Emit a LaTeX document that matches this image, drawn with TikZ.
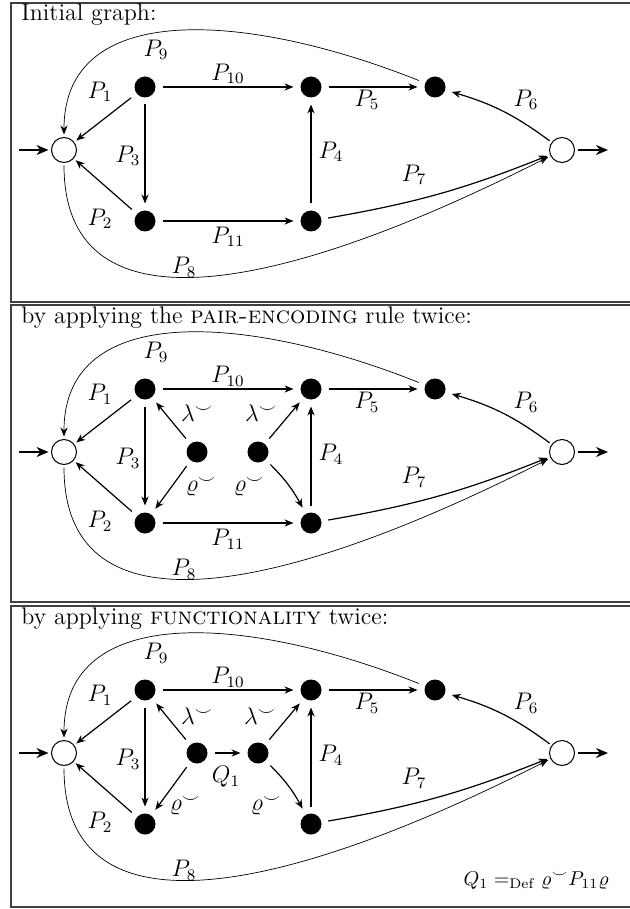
\documentclass[tikz,border=0pt]{standalone}
\usepackage{amsmath,amssymb}
\usetikzlibrary{arrows.meta}

\tikzset{
  vtx/.style={circle,fill=black,inner sep=0pt,minimum size=10.5pt,outer sep=3.5pt},
  port/.style={circle,draw,line width=0.5pt,inner sep=0pt,minimum size=12.5pt,outer sep=1.5pt},
  arr/.style={line width=0.6pt,-{Stealth[length=4.5pt,width=3.6pt]}},
  thinarr/.style={line width=0.35pt,-{Stealth[length=4.5pt,width=3.6pt]}},
  ioarr/.style={line width=1.1pt,-{Stealth[length=6pt,width=5pt]}},
  lbl/.style={font=\large},
  headtxt/.style={font=\large,inner sep=0pt},
  frame/.style={line width=0.6pt,black!75},
}

\begin{document}
\begin{tikzpicture}[x=0.5pt,y=-0.5pt]
  \useasboundingbox (0,0) rectangle (630,909);

  % common part of the three panels
  \foreach \pn/\yt/\hgt/\heading in {a/3/299/{Initial graph:},
      b/305/297/{by applying the \textsc{pair-encoding} rule twice:},
      c/606/301/{by applying \textsc{functionality} twice:}}{
    \begin{scope}[shift={(0,\yt)}]
      \draw[frame] (630,0) -| (11,\hgt) -- (630,\hgt);
      \node[headtxt,anchor=base west] (\pn head) at (21,18) {\heading};

      \node[port] (\pn in) at (64,147) {};
      \node[port] (\pn out) at (562,147) {};
      \node[vtx] (\pn TL) at (145,84) {};
      \node[vtx] (\pn TM) at (311,84) {};
      \node[vtx] (\pn TR) at (435,84) {};
      \node[vtx] (\pn BL) at (145,218) {};
      \node[vtx] (\pn BM) at (311,218) {};
      \coordinate (\pn src) at (19,147);
      \coordinate (\pn snk) at (608,147);

      \draw[ioarr] (\pn src) -- (\pn in);
      \draw[ioarr] (\pn out) -- (\pn snk);
      \draw[arr] (\pn TL) -- (\pn in);
      \draw[arr] (\pn BL) -- (\pn in);
      \draw[arr] (\pn TL) -- (\pn BL);
      \draw[arr] (\pn TL) -- (\pn TM);
      \draw[arr] (\pn BM) -- (\pn TM);
      \draw[arr] (\pn TM) -- (\pn TR);
      \draw[arr] (\pn out) to[bend right=10] (\pn TR);
      \draw[arr] (\pn BM) to[bend right=6] (\pn out);
      \draw[thinarr] (\pn TR) .. controls (250,10) and (64,-5) .. (\pn in);
      \draw[thinarr] (\pn in) .. controls (64,325) and (260,300) .. (\pn out);

      \node[lbl] (\pn l9) at (156,47) {$P_9$};
      \node[lbl] (\pn l1) at (100,89) {$P_1$};
      \node[lbl] (\pn l3) at (128,153) {$P_3$};
      \node[lbl] (\pn l2) at (100,216) {$P_2$};
      \node[lbl] (\pn l10) at (228,71) {$P_{10}$};
      \node[lbl] (\pn l8) at (184,264) {$P_8$};
      \node[lbl] (\pn l5) at (367,97) {$P_5$};
      \node[lbl] (\pn l6) at (526,97) {$P_6$};
      \node[lbl] (\pn l4) at (331,149) {$P_4$};
      \node[lbl] (\pn l7) at (414,172) {$P_7$};
    \end{scope}
  }

  % P11 is still there in the first two panels
  \foreach \pn/\yt in {a/3, b/305}{
    \begin{scope}[shift={(0,\yt)}]
      \draw[arr] (\pn BL) -- (\pn BM);
      \node[lbl] (\pn l11) at (228,234) {$P_{11}$};
    \end{scope}
  }

  % pair encoding
  \begin{scope}[shift={(0,305)}]
    \node[vtx] (bA) at (197,147) {};
    \node[vtx] (bB) at (258,147) {};
    \draw[arr] (bA) -- (bTL);
    \draw[arr] (bA) -- (bBL);
    \draw[arr] (bB) -- (bTM);
    \draw[arr] (bB) to[bend left=8] (bBM);
    \node[lbl] (blamA) at (197,108) {$\lambda^{\smile}$};
    \node[lbl] (blamB) at (261,108) {$\lambda^{\smile}$};
    \node[lbl] (brhoA) at (201,182) {$\varrho^{\smile}$};
    \node[lbl] (brhoB) at (249,182) {$\varrho^{\smile}$};
  \end{scope}

  % functionality
  \begin{scope}[shift={(0,606)}]
    \node[vtx] (cA) at (197,147) {};
    \node[vtx] (cB) at (258,147) {};
    \draw[arr] (cA) -- (cTL);
    \draw[arr] (cA) -- (cBL);
    \draw[arr] (cB) -- (cTM);
    \draw[arr] (cB) to[bend left=8] (cBM);
    \draw[arr] (cA) -- (cB);
    \node[lbl] (clamA) at (197,110) {$\lambda^{\smile}$};
    \node[lbl] (clamB) at (260,110) {$\lambda^{\smile}$};
    \node[lbl] (crhoA) at (185,200) {$\varrho^{\smile}$};
    \node[lbl] (crhoB) at (266,200) {$\varrho^{\smile}$};
    \node[lbl] (cq1) at (226,171) {$Q_1$};
    \node[inner sep=0pt,anchor=base east] (cdef) at (609,279)
      {$Q_1 \mathrel{=_{\mathrm{Def}}} \varrho^{\smile} P_{11}\varrho$};
  \end{scope}
\end{tikzpicture}
\end{document}
